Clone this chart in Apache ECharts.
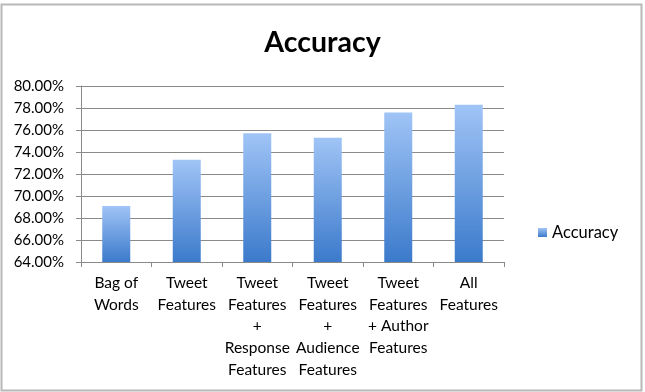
<!DOCTYPE html>
<html>
<head>
<meta charset="utf-8">
<script src="https://cdn.jsdelivr.net/npm/echarts@6/dist/echarts.min.js"></script>
<style>
  html, body { margin: 0; padding: 0; background: #fff; }
  #chart { width: 645px; height: 392px; }
</style>
</head>
<body>
<div id="chart"></div>
<script>
const categories = [
  'Bag of\nWords',
  'Tweet\nFeatures',
  'Tweet\nFeatures\n+\nResponse\nFeatures',
  'Tweet\nFeatures\n+\nAudience\nFeatures',
  'Tweet\nFeatures\n+ Author\nFeatures',
  'All\nFeatures'
]
const accuracy = [69.1, 73.3, 75.7, 75.3, 77.6, 78.3]
const yMin = 64
const yMax = 80
const yStep = 2

const font = 'Lato, "Open Sans", sans-serif'
const barFill = new echarts.graphic.LinearGradient(0, 0, 0, 1, [
  { offset: 0, color: '#a0c4f6' },
  { offset: 1, color: '#3b7acb' }
])

const chart = echarts.init(document.getElementById('chart'))
chart.setOption({
  animation: false,
  graphic: [{
    type: 'rect',
    shape: { x: 1.5, y: 4.5, width: 640, height: 386 },
    style: { fill: 'none', stroke: '#b8b8b8', lineWidth: 2 },
    z: -1
  }],
  title: {
    text: 'Accuracy',
    left: 'center',
    top: 23,
    textStyle: { fontFamily: font, fontSize: 28.5, fontWeight: 'bold', color: '#000' }
  },
  legend: {
    data: ['Accuracy'],
    orient: 'vertical',
    left: 533,
    top: 219,
    icon: 'rect',
    itemWidth: 9,
    itemHeight: 9,
    itemGap: 4,
    textStyle: { fontFamily: font, fontSize: 16.5, color: '#000' }
  },
  grid: { left: 81, right: 141, top: 86, bottom: 130 },
  xAxis: {
    type: 'category',
    data: categories,
    axisLine: { lineStyle: { color: '#8a8a8a', width: 1 } },
    axisTick: { show: true, length: 5, lineStyle: { color: '#8a8a8a' } },
    axisLabel: {
      interval: 0,
      margin: 10,
      fontFamily: font,
      fontSize: 15.5,
      lineHeight: 21.7,
      color: '#000',
      verticalAlign: 'top'
    }
  },
  yAxis: {
    type: 'value',
    min: yMin,
    max: yMax,
    interval: yStep,
    axisLine: { show: true, lineStyle: { color: '#8a8a8a' } },
    axisTick: { show: true, length: 5, lineStyle: { color: '#8a8a8a' } },
    splitLine: { lineStyle: { color: '#8a8a8a', width: 1 } },
    axisLabel: {
      margin: 17,
      fontFamily: font,
      fontSize: 15,
      color: '#000',
      formatter: v => v.toFixed(2) + '%'
    }
  },
  series: [{
    name: 'Accuracy',
    type: 'bar',
    data: accuracy,
    barWidth: 28,
    itemStyle: { color: barFill }
  }]
})
</script>
</body>
</html>
